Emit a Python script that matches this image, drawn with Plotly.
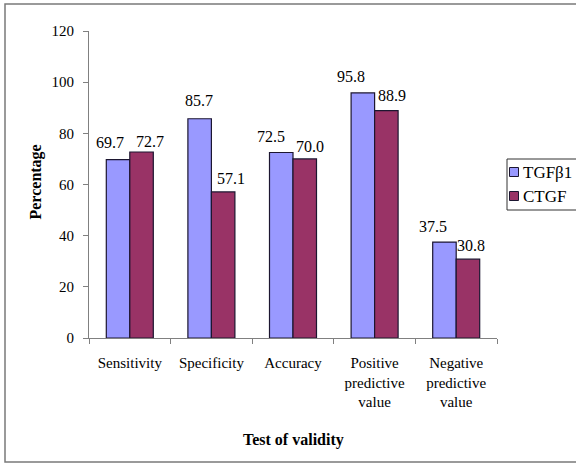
import plotly.graph_objects as go

# ---- data ----
categories = ["Sensitivity", "Specificity", "Accuracy",
              "Positive<br>predictive<br>value", "Negative<br>predictive<br>value"]
tgfb1 = [69.7, 85.7, 72.5, 95.8, 37.5]
ctgf = [72.7, 57.1, 70.0, 88.9, 30.8]
series_names = ["TGFβ1", "CTGF"]
y_ticks = [0, 20, 40, 60, 80, 100, 120]

# ---- styling ----
W, H = 576, 465
ML, MR, MT, MB = 89, 79, 31, 127
PW, PH = W - ML - MR, H - MT - MB
colors = ["#9999FF", "#993366"]
outline = "#1c1630"
axis_grey = "#808080"
serif = "Liberation Serif"
bar_half = 11.75  # half bar width in px, used to centre value labels

# per-label nudges (px) so neighbouring value labels do not collide
tgfb1_dx = [-8.5, -1, -10, -12, -11]
tgfb1_dy = [17.5, 18, 16, 16, 16]
ctgf_dx = [8.5, 7.5, 5.5, 6, 3]
ctgf_dy = [11, 13, 12, 15, 14]


def px_x(px):
    return (px - ML) / PW


def px_y(py):
    return (H - MB - py) / PH


fig = go.Figure()
for name, vals, col in zip(series_names, [tgfb1, ctgf], colors):
    fig.add_trace(go.Bar(
        x=categories, y=vals, name=name,
        marker=dict(color=col, line=dict(color=outline, width=1.2)),
        showlegend=False,
    ))

annotations = []
for vals, dxs, dys, side in [(tgfb1, tgfb1_dx, tgfb1_dy, -1), (ctgf, ctgf_dx, ctgf_dy, 1)]:
    for cat, v, dx, dy in zip(categories, vals, dxs, dys):
        annotations.append(dict(
            x=cat, y=v, xref="x", yref="y", text=f"{v:.1f}", showarrow=False,
            xshift=side * bar_half + dx, yshift=dy, yanchor="middle",
            font=dict(family=serif, size=16, color="black"),
        ))

# axis titles
annotations.append(dict(
    x=px_x(35), y=px_y(182.5), xref="paper", yref="paper", text="<b>Percentage</b>",
    textangle=-90, showarrow=False, xanchor="center", yanchor="middle",
    font=dict(family=serif, size=16, color="black"),
))
annotations.append(dict(
    x=px_x(293), y=px_y(440), xref="paper", yref="paper", text="<b>Test of validity</b>",
    showarrow=False, xanchor="center", yanchor="middle",
    font=dict(family=serif, size=16, color="black"),
))

shapes = []
# outer frame
shapes.append(dict(type="rect", xref="paper", yref="paper",
                   x0=px_x(5), x1=px_x(585), y0=px_y(462), y1=px_y(4),
                   line=dict(color="#7a7a7a", width=1.5), layer="below"))
# legend box
shapes.append(dict(type="rect", xref="paper", yref="paper",
                   x0=px_x(507), x1=px_x(590), y0=px_y(210), y1=px_y(159),
                   line=dict(color="#333333", width=1), fillcolor="white"))
for i, (name, col) in enumerate(zip(series_names, colors)):
    cy = 172 + 24 * i
    shapes.append(dict(type="rect", xref="paper", yref="paper",
                       x0=px_x(509.5), x1=px_x(518.5), y0=px_y(cy + 4.5), y1=px_y(cy - 4.5),
                       line=dict(color=outline, width=1), fillcolor=col))
    annotations.append(dict(
        x=px_x(521), y=px_y(cy), xref="paper", yref="paper", text=name,
        showarrow=False, xanchor="left", yanchor="middle",
        font=dict(family=serif, size=17, color="black"),
    ))

fig.update_layout(
    width=W, height=H,
    margin=dict(l=ML, r=MR, t=MT, b=MB, autoexpand=False),
    paper_bgcolor="white", plot_bgcolor="white",
    barmode="group", bargap=0.424, bargroupgap=0,
    font=dict(family=serif, size=15, color="black"),
    annotations=annotations, shapes=shapes,
    showlegend=False,
)
fig.update_xaxes(
    showline=True, linecolor=axis_grey, linewidth=1,
    ticks="outside", tickson="boundaries", ticklen=5, tickcolor=axis_grey,
    tickfont=dict(family=serif, size=15, color="black"),
    ticklabelstandoff=11, showgrid=False, zeroline=False, fixedrange=True,
)
fig.update_yaxes(
    range=[0, 120], tickvals=y_ticks, ticktext=[str(t) for t in y_ticks],
    showline=True, linecolor=axis_grey, linewidth=1,
    ticks="outside", ticklen=5, tickcolor=axis_grey,
    tickfont=dict(family=serif, size=15, color="black"),
    ticklabelstandoff=6, showgrid=False, zeroline=False, fixedrange=True,
)

fig.write_html("out.html")
